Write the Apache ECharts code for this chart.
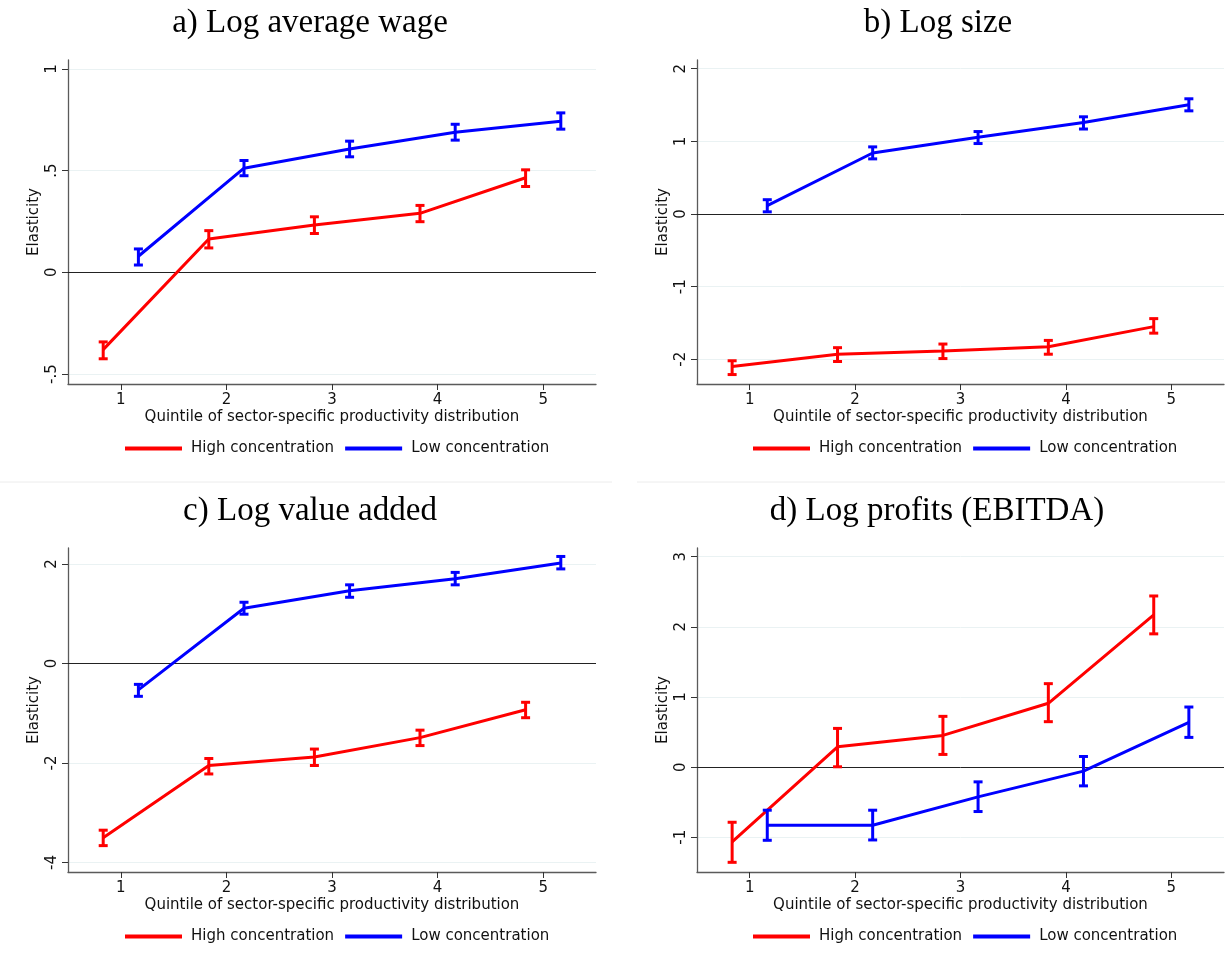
<!DOCTYPE html>
<html>
<head>
<meta charset="utf-8">
<script src="https://cdn.jsdelivr.net/npm/echarts@6/dist/echarts.min.js"></script>
<style>
html,body{margin:0;padding:0;background:#fff;}
#chart{width:1225px;height:965px;}
</style>
</head>
<body>
<div id="chart"></div>
<script>
// ---------- data ----------
const quintiles = [1, 2, 3, 4, 5];
const seriesNames = ['High concentration', 'Low concentration'];
const xAxisTitle = 'Quintile of sector-specific productivity distribution';
const yAxisTitle = 'Elasticity';
const panelTitles = ['a) Log average wage', 'b) Log size', 'c) Log value added', 'd) Log profits (EBITDA)'];

// a) Log average wage
const wageHigh   = [-0.380, 0.164, 0.233, 0.290, 0.465];
const wageHighLo = [-0.425, 0.120, 0.191, 0.249, 0.422];
const wageHighHi = [-0.342, 0.205, 0.273, 0.329, 0.504];
const wageLow    = [0.079, 0.512, 0.606, 0.689, 0.743];
const wageLowLo  = [0.036, 0.475, 0.568, 0.650, 0.704];
const wageLowHi  = [0.115, 0.550, 0.645, 0.728, 0.784];
const wageTicks  = [-0.5, 0, 0.5, 1];
const wageTickLabels = ['-.5', '0', '.5', '1'];

// b) Log size
const sizeHigh   = [-2.100, -1.930, -1.886, -1.826, -1.550];
const sizeHighLo = [-2.210, -2.030, -1.990, -1.930, -1.640];
const sizeHighHi = [-2.020, -1.840, -1.790, -1.740, -1.440];
const sizeLow    = [0.115, 0.840, 1.057, 1.260, 1.503];
const sizeLowLo  = [0.030, 0.759, 0.970, 1.170, 1.420];
const sizeLowHi  = [0.197, 0.924, 1.135, 1.338, 1.586];
const sizeTicks  = [-2, -1, 0, 1, 2];
const sizeTickLabels = ['-2', '-1', '0', '1', '2'];

// c) Log value added
const vaHigh   = [-3.50, -2.05, -1.88, -1.49, -0.93];
const vaHighLo = [-3.66, -2.22, -2.05, -1.65, -1.09];
const vaHighHi = [-3.35, -1.91, -1.72, -1.34, -0.78];
const vaLow    = [-0.53, 1.11, 1.46, 1.70, 2.02];
const vaLowLo  = [-0.66, 0.99, 1.33, 1.58, 1.90];
const vaLowHi  = [-0.42, 1.23, 1.58, 1.83, 2.15];
const vaTicks  = [-4, -2, 0, 2];
const vaTickLabels = ['-4', '-2', '0', '2'];

// d) Log profits (EBITDA)
const profHigh   = [-1.067, 0.290, 0.452, 0.910, 2.170];
const profHighLo = [-1.357, 0.005, 0.181, 0.648, 1.900];
const profHighHi = [-0.786, 0.552, 0.724, 1.190, 2.440];
const profLow    = [-0.829, -0.829, -0.424, -0.057, 0.638];
const profLowLo  = [-1.043, -1.038, -0.633, -0.267, 0.424];
const profLowHi  = [-0.614, -0.614, -0.210, 0.152, 0.857];
const profTicks  = [-1, 0, 1, 2, 3];
const profTickLabels = ['-1', '0', '1', '2', '3'];

// ---------- layout ----------
const FONT = 'DejaVu Sans';
const RED = '#ff0000', BLUE = '#0000ff';
const OFFSET = 1 / 6;

const panels = [
  { title: panelTitles[0], titleX: 310, titleY: 23, grid: { left: 68, top: 60, width: 528, height: 324 },
    yMin: -0.549, yMax: 1.044, ticks: wageTicks, tickLabels: wageTickLabels,
    high: [wageHigh, wageHighLo, wageHighHi], low: [wageLow, wageLowLo, wageLowHi], legend: { left: 125, top: 441 } },
  { title: panelTitles[1], titleX: 938, titleY: 23, grid: { left: 697, top: 60, width: 527, height: 324 },
    yMin: -2.34, yMax: 2.12, ticks: sizeTicks, tickLabels: sizeTickLabels,
    high: [sizeHigh, sizeHighLo, sizeHighHi], low: [sizeLow, sizeLowLo, sizeLowHi], legend: { left: 753, top: 441 } },
  { title: panelTitles[2], titleX: 310, titleY: 511, grid: { left: 68, top: 548, width: 528, height: 324 },
    yMin: -4.19, yMax: 2.32, ticks: vaTicks, tickLabels: vaTickLabels,
    high: [vaHigh, vaHighLo, vaHighHi], low: [vaLow, vaLowLo, vaLowHi], legend: { left: 125, top: 929 } },
  { title: panelTitles[3], titleX: 937, titleY: 511, grid: { left: 697, top: 548, width: 527, height: 324 },
    yMin: -1.495, yMax: 3.124, ticks: profTicks, tickLabels: profTickLabels,
    high: [profHigh, profHighLo, profHighHi], low: [profLow, profLowLo, profLowHi], legend: { left: 753, top: 929 } }
];

function errorBarRender(color) {
  return function (params, api) {
    const x = api.value(0), lo = api.value(1), hi = api.value(2);
    const pLo = api.coord([x, lo]);
    const pHi = api.coord([x, hi]);
    const cap = 4.5;
    const style = { stroke: color, lineWidth: 3, lineCap: 'butt' };
    return {
      type: 'group',
      children: [
        { type: 'line', shape: { x1: pLo[0], y1: pLo[1], x2: pHi[0], y2: pHi[1] }, style },
        { type: 'line', shape: { x1: pLo[0] - cap, y1: pLo[1], x2: pLo[0] + cap, y2: pLo[1] }, style },
        { type: 'line', shape: { x1: pHi[0] - cap, y1: pHi[1], x2: pHi[0] + cap, y2: pHi[1] }, style }
      ]
    };
  };
}

const grids = [], xAxes = [], yAxes = [], series = [], legends = [], graphics = [];

panels.forEach((p, i) => {
  grids.push(Object.assign({ containLabel: false }, p.grid));
  xAxes.push({
    type: 'value', gridIndex: i, min: 0.5, max: 5.5,
    name: xAxisTitle, nameLocation: 'middle', nameGap: 26,
    nameTextStyle: { fontFamily: FONT, fontSize: 15, color: '#111' },
    axisLine: { show: true, onZero: false, lineStyle: { color: '#5a5a5a', width: 1.3 } },
    axisTick: { show: true, length: 6, customValues: quintiles, lineStyle: { color: '#333', width: 1 } },
    axisLabel: { customValues: quintiles, margin: 9, fontFamily: FONT, fontSize: 15, color: '#111' },
    splitLine: { show: false }
  });
  const tv = p.ticks, tl = p.tickLabels;
  yAxes.push({
    type: 'value', gridIndex: i, min: p.yMin, max: p.yMax,
    name: yAxisTitle, nameLocation: 'middle', nameGap: 26, nameRotate: 90,
    nameTextStyle: { fontFamily: FONT, fontSize: 15, color: '#111' },
    axisLine: { show: true, onZero: false, lineStyle: { color: '#5a5a5a', width: 1.3 } },
    axisTick: { show: true, length: 6, customValues: tv, lineStyle: { color: '#333', width: 1 } },
    axisLabel: { customValues: tv, rotate: 90, margin: 8.5, fontFamily: FONT, fontSize: 15, color: '#111',
      formatter: v => { const k = tv.findIndex(t => Math.abs(t - v) < 1e-9); return k >= 0 ? tl[k] : ''; } },
    splitLine: { show: true, lineStyle: { color: '#eaf2f3', width: 1 } }
  });

  const groups = [[p.high, -OFFSET, RED, seriesNames[0]], [p.low, OFFSET, BLUE, seriesNames[1]]];
  groups.forEach(([arr, off, color, name], gi) => {
    const [mid, lo, hi] = arr;
    series.push({
      type: 'line', name: name, xAxisIndex: i, yAxisIndex: i,
      data: quintiles.map((q, k) => [q + off, mid[k]]),
      symbol: 'none', lineStyle: { color: color, width: 3 }, itemStyle: { color: color },
      z: 3, silent: true,
      markLine: gi === 0 ? {
        silent: true, symbol: 'none', label: { show: false },
        lineStyle: { color: '#222', width: 1, type: 'solid' },
        data: [{ yAxis: 0 }], z: 1
      } : undefined
    });
    series.push({
      type: 'custom', name: name + ' CI', xAxisIndex: i, yAxisIndex: i,
      data: quintiles.map((q, k) => [q + off, lo[k], hi[k]]),
      renderItem: errorBarRender(color), z: 4, silent: true,
      encode: { x: 0, y: [1, 2] }
    });
  });

  legends.push({
    data: seriesNames, left: p.legend.left, top: p.legend.top, orient: 'horizontal', padding: 0,
    icon: 'rect', itemWidth: 57, itemHeight: 4, itemGap: 11,
    textStyle: { fontFamily: FONT, fontSize: 15, color: '#111', padding: [0, 0, 0, 4] },
    selectedMode: false
  });

  graphics.push({
    type: 'text', x: p.titleX, y: p.titleY,
    style: { text: p.title, font: '33px "Liberation Serif"', fill: '#000', align: 'center', verticalAlign: 'middle' }
  });
});

// faint panel border lines
graphics.push({ type: 'line', shape: { x1: 0, y1: 482, x2: 612, y2: 482 }, style: { stroke: '#ececec', lineWidth: 1 } });
graphics.push({ type: 'line', shape: { x1: 637, y1: 482, x2: 1225, y2: 482 }, style: { stroke: '#ececec', lineWidth: 1 } });

const chart = echarts.init(document.getElementById('chart'), null, { renderer: 'canvas' });
chart.setOption({
  animation: false,
  backgroundColor: '#ffffff',
  grid: grids, xAxis: xAxes, yAxis: yAxes, series: series, legend: legends, graphic: graphics
});
</script>
</body>
</html>
